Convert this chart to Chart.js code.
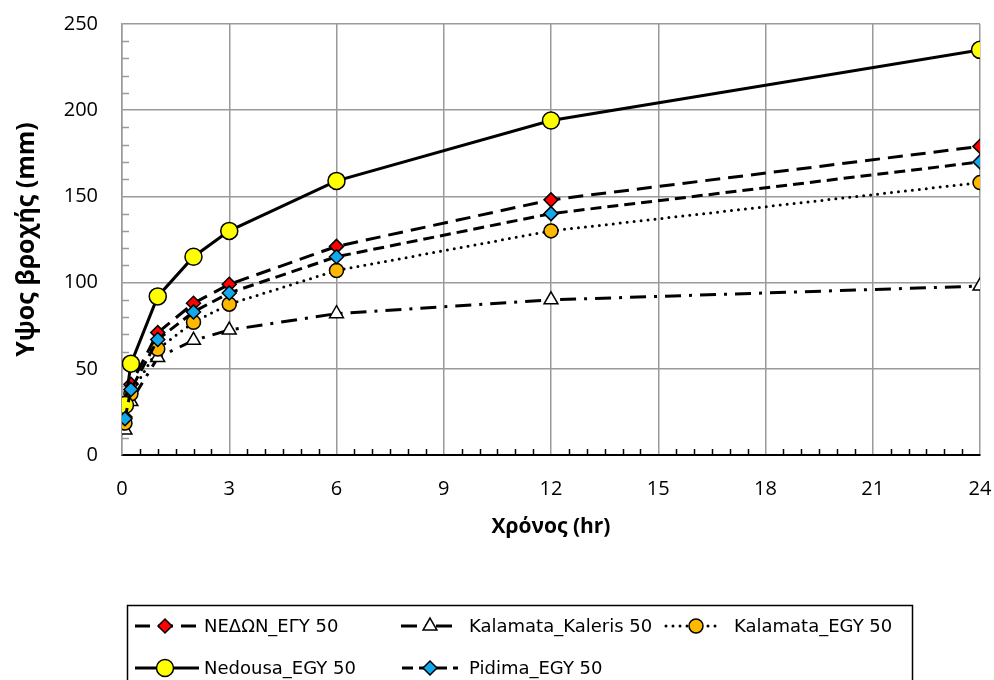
<!DOCTYPE html>
<html>
<head>
<meta charset="utf-8">
<script src="https://cdn.jsdelivr.net/npm/chart.js@4"></script>
<style>
  html, body { margin: 0; padding: 0; background: #fff; }
</style>
</head>
<body>
<canvas id="rain" width="994" height="680"></canvas>
<script>
// rainfall depth (mm) for 50-year return period, by duration (hr)
const hours = [0.0833, 0.25, 1, 2, 3, 6, 12, 24];
const nedonEgy = [22, 41, 71, 88, 99, 121, 148, 179];
const kalamataKaleris = [14.5, 31, 56.5, 66.5, 72.5, 82, 90, 98];
const kalamataEgy = [18.5, 35.5, 61.5, 77, 87.5, 107, 130, 158];
const nedousaEgy = [29, 53, 92, 115, 130, 159, 194, 235];
const pidimaEgy = [21, 38, 67, 83, 94, 115, 140, 170];

const seriesNames = ['ΝΕΔΩΝ_ΕΓΥ 50', 'Kalamata_Kaleris 50', 'Kalamata_EGY 50', 'Nedousa_EGY 50', 'Pidima_EGY 50'];
const xTicks = [0, 3, 6, 9, 12, 15, 18, 21, 24];
const yTicks = [0, 50, 100, 150, 200, 250];

const tickFont = { family: 'Open Sans', size: 20 };
const gridGrey = '#9a9a9a';

function pts(values) {
  return hours.map((h, i) => ({ x: h, y: values[i] }));
}

function series(label, values, style) {
  return Object.assign({
    label: label,
    data: pts(values),
    borderColor: '#000',
    borderWidth: 3,
    pointBorderColor: '#000',
    pointBorderWidth: 1.5,
    tension: 0,
    fill: false
  }, style);
}

const datasets = [
  series(seriesNames[0], nedonEgy, {
    borderDash: [15, 8], pointStyle: 'rectRot', pointRadius: 7,
    pointBackgroundColor: '#ff0000', order: 4
  }),
  series(seriesNames[1], kalamataKaleris, {
    borderDash: [16, 8, 3, 8], pointStyle: 'triangle', pointRadius: 8,
    pointBackgroundColor: '#ffffff', order: 3
  }),
  series(seriesNames[2], kalamataEgy, {
    borderDash: [0, 7], borderCapStyle: 'round', pointStyle: 'circle', pointRadius: 7,
    pointBackgroundColor: '#ffb800', order: 2
  }),
  series(seriesNames[3], nedousaEgy, {
    pointStyle: 'circle', pointRadius: 8.5,
    pointBackgroundColor: '#ffff00', order: 1
  }),
  series(seriesNames[4], pidimaEgy, {
    borderDash: [11, 6], pointStyle: 'rectRot', pointRadius: 7,
    pointBackgroundColor: '#12a8ec', order: 0
  })
];

// small inside ticks: every 10 mm on the y axis, every half hour on the x axis
const minorTicks = {
  id: 'minorTicks',
  beforeDatasetsDraw(chart) {
    const { ctx, chartArea: a, scales: { x, y } } = chart;
    ctx.save();
    ctx.lineWidth = 1.5;
    ctx.strokeStyle = gridGrey;
    ctx.beginPath();
    for (let v = 10; v < 250; v += 10) {
      if (v % 50 === 0) continue;
      const py = Math.round(y.getPixelForValue(v)) + 0.5;
      ctx.moveTo(a.left, py);
      ctx.lineTo(a.left + 7, py);
    }
    ctx.stroke();
    ctx.strokeStyle = '#000';
    ctx.beginPath();
    for (let v = 0.5; v < 24; v += 0.5) {
      if (v % 3 === 0) continue;
      const px = Math.round(x.getPixelForValue(v)) + 0.5;
      ctx.moveTo(px, a.bottom);
      ctx.lineTo(px, a.bottom - 6);
    }
    ctx.stroke();
    ctx.restore();
  }
};

// legend box under the chart, line sample + marker + name
const legendSlots = [
  { row: 0, x0: 135, x1: 198, m: 165, t: 204 },
  { row: 0, x0: 401, x1: 454, m: 430, t: 469 },
  { row: 0, x0: 666, x1: 719, m: 696, t: 734 },
  { row: 1, x0: 135, x1: 199, m: 165, t: 204 },
  { row: 1, x0: 402, x1: 458, m: 430, t: 469 }
];
const legendRows = [626, 668];

const boxLegend = {
  id: 'boxLegend',
  afterDraw(chart) {
    const ctx = chart.ctx;
    ctx.save();
    ctx.strokeStyle = '#000';
    ctx.lineWidth = 1.5;
    ctx.strokeRect(127.5, 605.5, 785, 90);
    chart.data.datasets.forEach((ds, i) => {
      const s = legendSlots[i];
      const y = legendRows[s.row];
      ctx.save();
      ctx.strokeStyle = ds.borderColor;
      ctx.lineWidth = ds.borderWidth;
      ctx.lineCap = ds.borderCapStyle || 'butt';
      ctx.setLineDash(ds.borderDash || []);
      ctx.beginPath();
      ctx.moveTo(s.x0, y);
      ctx.lineTo(s.x1, y);
      ctx.stroke();
      ctx.restore();
      ctx.save();
      ctx.fillStyle = ds.pointBackgroundColor;
      ctx.strokeStyle = ds.pointBorderColor;
      ctx.lineWidth = ds.pointBorderWidth;
      Chart.helpers.drawPoint(ctx, {
        pointStyle: ds.pointStyle, radius: ds.pointRadius, rotation: 0, borderWidth: ds.pointBorderWidth
      }, s.m, y);
      ctx.restore();
      ctx.fillStyle = '#000';
      ctx.font = '18px "DejaVu Sans"';
      ctx.textBaseline = 'middle';
      ctx.textAlign = 'left';
      ctx.fillText(ds.label, s.t, y + 1);
    });
    ctx.restore();
  }
};

new Chart(document.getElementById('rain'), {
  type: 'line',
  data: { datasets: datasets },
  plugins: [minorTicks, boxLegend],
  options: {
    responsive: false,
    animation: false,
    devicePixelRatio: 1,
    layout: { padding: { left: 12, right: 14, top: 24, bottom: 140 } },
    plugins: { legend: { display: false }, tooltip: { enabled: false } },
    scales: {
      x: {
        type: 'linear',
        min: 0,
        max: 24,
        afterBuildTicks: (s) => { s.ticks = xTicks.map(v => ({ value: v })); },
        afterFit: (s) => { s.height = 85; },
        ticks: { font: tickFont, color: '#000', padding: 0, maxRotation: 0 },
        grid: { color: gridGrey, lineWidth: 1.5, tickLength: 22, tickColor: 'rgba(0,0,0,0)' },
        border: { color: '#000', width: 2 },
        title: {
          display: true, text: 'Χρόνος (hr)', color: '#000', padding: 0,
          font: { family: 'Open Sans', size: 21, weight: 'bold' }
        }
      },
      y: {
        min: 0,
        max: 250,
        afterBuildTicks: (s) => { s.ticks = yTicks.map(v => ({ value: v })); },
        afterFit: (s) => { s.width = 110; },
        ticks: { font: tickFont, color: '#000', padding: 0 },
        grid: { color: gridGrey, lineWidth: 1.5, tickLength: 24, tickColor: 'rgba(0,0,0,0)' },
        border: { color: gridGrey, width: 1.5 },
        title: {
          display: true, text: 'Υψος βροχής (mm)', color: '#000', padding: 0,
          font: { family: 'Open Sans', size: 25, weight: 'bold' }
        }
      }
    }
  }
});
</script>
</body>
</html>
